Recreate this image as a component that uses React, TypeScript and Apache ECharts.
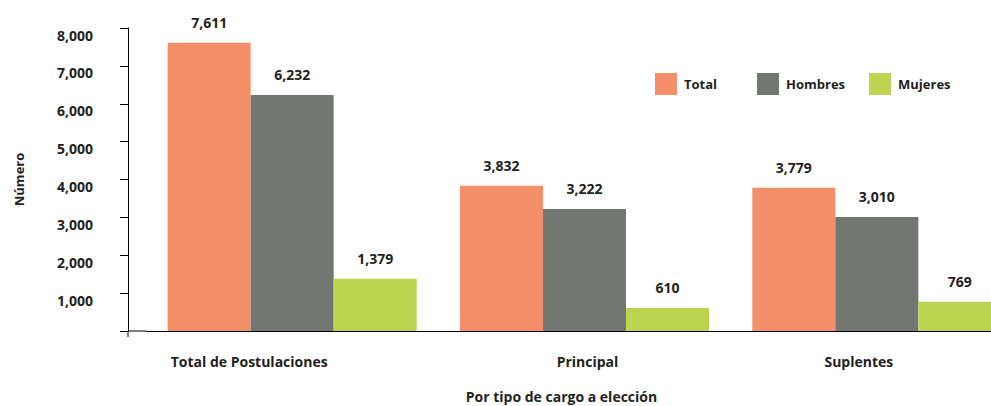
import React, { useEffect, useRef } from "react";
import * as echarts from "echarts";

const categories = ["Total de Postulaciones", "Principal", "Suplentes"];
const totalValues = [7611, 3832, 3779];
const hombresValues = [6232, 3222, 3010];
const mujeresValues = [1379, 610, 769];
const seriesNames = ["Total", "Hombres", "Mujeres"];
const yMin = 0;
const yMax = 8000;
const yInterval = 1000;

const FONT = "'Open Sans', 'Noto Sans', sans-serif";
const TEXT = "#231f20";
const COLORS = ["#f3906a", "#727772", "#bdd352"];

const W = 991;
const H = 406;
const GRID_LEFT = 146;
const GRID_TOP = 28;
const GRID_BOTTOM = 75;
const GRID_WIDTH = 877;
const Y_OFFSET = 18;

const fmt = (v: number) => v.toLocaleString("en-US");

export default function App() {
  const ref = useRef<HTMLDivElement>(null);
  useEffect(() => {
    document.body.style.margin = "0";
    if (!ref.current) return;
    const chart = echarts.init(ref.current, undefined, { renderer: "svg" });
    const labelStyle = {
      show: true,
      position: "top" as const,
      distance: 13,
      fontFamily: FONT,
      fontWeight: "bold" as const,
      fontSize: 14,
      color: TEXT,
      formatter: (p: any) => fmt(p.value),
    };
    const mk = (name: string, data: number[], color: string) => ({
      name,
      type: "bar",
      data,
      barGap: "0%",
      barCategoryGap: "14.8%",
      itemStyle: { color },
      label: labelStyle,
    });
    const axisY = H - GRID_BOTTOM;
    const legendText = { fontFamily: FONT, fontWeight: "bold", fontSize: 13, color: TEXT, padding: [0, 0, 0, 2] };
    const legendBase = {
      top: 73,
      padding: 0,
      itemWidth: 22,
      itemHeight: 22,
      itemGap: 24,
      icon: "rect",
      textStyle: legendText,
    };
    chart.setOption({
      animation: false,
      grid: {
        left: GRID_LEFT,
        width: GRID_WIDTH,
        top: GRID_TOP,
        bottom: GRID_BOTTOM,
        containLabel: false,
        outerBoundsMode: "none",
      },
      legend: [
        { ...legendBase, data: [seriesNames[0]], left: 655 },
        { ...legendBase, data: [seriesNames[1], seriesNames[2]], left: 757 },
      ],
      xAxis: {
        type: "category",
        data: categories,
        axisLine: { lineStyle: { color: "#000", width: 1 } },
        axisTick: { show: false },
        axisLabel: {
          margin: 23,
          fontFamily: FONT,
          fontWeight: "bold",
          fontSize: 14,
          color: TEXT,
          formatter: (v: string, i: number) => (i === 0 ? `{a|${v}}` : i === 2 ? `{c|${v}}` : `{b|${v}}`),
          rich: {
            a: { fontFamily: FONT, fontWeight: "bold", fontSize: 14, color: TEXT, padding: [0, 86, 0, 0] },
            b: { fontFamily: FONT, fontWeight: "bold", fontSize: 14, color: TEXT, padding: [0, 0, 0, 6] },
            c: { fontFamily: FONT, fontWeight: "bold", fontSize: 14, color: TEXT, padding: [0, 36, 0, 0] },
          },
        },
        name: "Por tipo de cargo a elección",
        nameLocation: "middle",
        nameGap: 58,
        nameTextStyle: { fontFamily: FONT, fontWeight: "bold", fontSize: 14, color: TEXT, padding: [0, 46, 0, 0] },
      },
      yAxis: {
        type: "value",
        min: yMin,
        max: yMax,
        interval: yInterval,
        offset: Y_OFFSET,
        splitLine: { show: false },
        axisLine: { show: true, lineStyle: { color: "#000", width: 1 } },
        axisTick: { show: true, length: 8, lineStyle: { color: "#000" } },
        axisLabel: {
          margin: 35,
          fontFamily: FONT,
          fontWeight: "bold",
          fontSize: 14,
          color: TEXT,
          verticalAlign: "top",
          formatter: (v: number) => (v === 0 ? "" : fmt(v)),
        },
        name: "Número",
        nameLocation: "middle",
        nameGap: 103,
        nameTextStyle: { fontFamily: FONT, fontWeight: "bold", fontSize: 13, color: TEXT },
      },
      graphic: [
        {
          type: "line",
          shape: { x1: GRID_LEFT - Y_OFFSET, y1: axisY, x2: GRID_LEFT, y2: axisY },
          style: { stroke: "#000", lineWidth: 1 },
        },
        {
          type: "line",
          shape: { x1: GRID_LEFT - Y_OFFSET, y1: axisY, x2: GRID_LEFT - Y_OFFSET, y2: axisY + 6 },
          style: { stroke: "#000", lineWidth: 1 },
        },
      ],
      series: [
        mk(seriesNames[0], totalValues, COLORS[0]),
        mk(seriesNames[1], hombresValues, COLORS[1]),
        mk(seriesNames[2], mujeresValues, COLORS[2]),
      ],
    });
    return () => chart.dispose();
  }, []);
  return <div ref={ref} style={{ width: W, height: H }} />;
}
